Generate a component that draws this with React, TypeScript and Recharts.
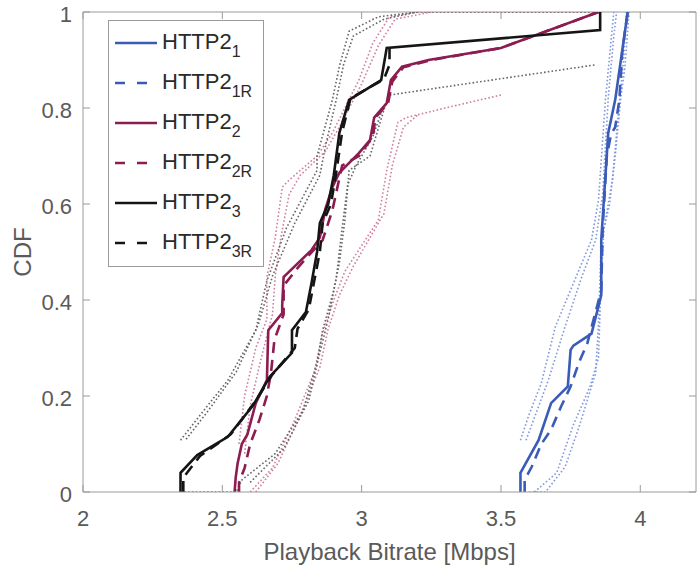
import React from "react";
import { LineChart, Line, XAxis, YAxis, Legend, ReferenceLine } from "recharts";

// CDF curves as [bitrate (Mbps), CDF]
const http2_1 = [[3.57, 0], [3.57, 0.04], [3.635, 0.108], [3.68, 0.185], [3.74, 0.22], [3.75, 0.296], [3.76, 0.305], [3.825, 0.33], [3.86, 0.41], [3.86, 0.525], [3.885, 0.748], [3.91, 0.817], [3.955, 1]];
const http2_1R = [[3.585, 0], [3.585, 0.025], [3.61, 0.052], [3.645, 0.1], [3.68, 0.13], [3.715, 0.177], [3.75, 0.22], [3.78, 0.27], [3.81, 0.31], [3.86, 0.42], [3.865, 0.55], [3.88, 0.7], [3.895, 0.745], [3.91, 0.76], [3.925, 0.817], [3.93, 0.865], [3.935, 0.915], [3.945, 0.96], [3.955, 1]];
const http2_2 = [[2.544, 0], [2.548, 0.03], [2.555, 0.06], [2.57, 0.1], [2.59, 0.12], [2.62, 0.185], [2.66, 0.233], [2.665, 0.337], [2.715, 0.373], [2.715, 0.39], [2.72, 0.448], [2.82, 0.504], [2.85, 0.53], [2.87, 0.59], [2.895, 0.635], [2.92, 0.665], [2.99, 0.706], [3.03, 0.733], [3.045, 0.78], [3.09, 0.81], [3.105, 0.858], [3.145, 0.886], [3.24, 0.9], [3.5, 0.925], [3.85, 1]];
const http2_2R = [[2.56, 0], [2.56, 0.02], [2.58, 0.05], [2.6, 0.1], [2.633, 0.15], [2.66, 0.2], [2.675, 0.25], [2.687, 0.317], [2.72, 0.37], [2.72, 0.43], [2.775, 0.47], [2.86, 0.525], [2.88, 0.56], [2.895, 0.587], [2.93, 0.68], [2.99, 0.7], [3.04, 0.74], [3.05, 0.78], [3.095, 0.81], [3.11, 0.855], [3.15, 0.885], [3.25, 0.9], [3.5, 0.925], [3.85, 1]];
const http2_3 = [[2.35, 0], [2.35, 0.04], [2.41, 0.077], [2.52, 0.115], [2.61, 0.18], [2.67, 0.24], [2.75, 0.29], [2.75, 0.337], [2.8, 0.375], [2.82, 0.435], [2.84, 0.5], [2.85, 0.56], [2.88, 0.6], [2.9, 0.66], [2.92, 0.748], [2.955, 0.817], [3.07, 0.858], [3.09, 0.925], [3.856, 0.9625], [3.856, 1]];
const http2_3R = [[2.36, 0], [2.36, 0.03], [2.42, 0.075], [2.53, 0.12], [2.62, 0.19], [2.68, 0.245], [2.76, 0.3], [2.77, 0.34], [2.81, 0.38], [2.83, 0.44], [2.85, 0.5], [2.86, 0.56], [2.89, 0.6], [2.91, 0.67], [2.93, 0.75], [2.96, 0.82], [3.08, 0.86], [3.1, 0.89], [3.1, 0.93]];

// dotted confidence bounds
const blueBoundA = [[3.57, 0.108], [3.6, 0.16], [3.645, 0.227], [3.695, 0.344], [3.78, 0.4625], [3.825, 0.525], [3.85, 0.608], [3.875, 0.817], [3.895, 0.94], [3.905, 1]];
const blueBoundB = [[3.59, 0.108], [3.67, 0.233], [3.73, 0.344], [3.79, 0.448], [3.84, 0.525], [3.865, 0.62], [3.885, 0.82], [3.905, 0.95], [3.915, 1]];
const blueBoundC = [[3.6, 0], [3.66, 0], [3.73, 0.052], [3.78, 0.135], [3.84, 0.248], [3.85, 0.352], [3.86, 0.525], [3.89, 0.6], [3.91, 0.7], [3.93, 0.82], [3.945, 0.886], [3.96, 1]];
const blueBoundD = [[3.62, 0], [3.7, 0.04], [3.76, 0.14], [3.82, 0.22], [3.85, 0.28], [3.86, 0.45], [3.87, 0.55], [3.9, 0.65], [3.92, 0.78], [3.94, 0.9], [3.95, 1]];
const maroonBoundA = [[2.56, 0.1], [2.58, 0.2], [2.62, 0.3], [2.66, 0.36], [2.66, 0.448], [2.69, 0.53], [2.715, 0.635], [2.74, 0.65], [2.84, 0.7], [2.895, 0.748], [2.99, 0.858], [3.04, 0.935], [3.1, 0.99], [3.2, 1], [3.85, 1]];
const maroonBoundB = [[2.58, 0.08], [2.6, 0.18], [2.64, 0.28], [2.68, 0.37], [2.69, 0.45], [2.71, 0.53], [2.74, 0.62], [2.78, 0.66], [2.87, 0.71], [2.92, 0.76], [3.0, 0.85], [3.06, 0.93], [3.12, 0.985], [3.25, 1]];
const maroonBoundC = [[2.6, 0], [2.68, 0.05], [2.76, 0.15], [2.83, 0.25], [2.86, 0.33], [2.9, 0.4], [2.94, 0.46], [3.06, 0.567], [3.09, 0.67], [3.13, 0.77], [3.16, 0.78], [3.3, 0.8], [3.5, 0.827]];
const maroonBoundD = [[2.62, 0], [2.7, 0.06], [2.78, 0.16], [2.85, 0.26], [2.88, 0.34], [2.92, 0.41], [2.97, 0.47], [3.08, 0.58], [3.11, 0.68], [3.15, 0.76], [3.2, 0.785]];
const blackBoundA = [[2.35, 0.108], [2.42, 0.16], [2.52, 0.233], [2.62, 0.337], [2.66, 0.44], [2.73, 0.55], [2.84, 0.67], [2.84, 0.7], [2.895, 0.817], [2.92, 0.886], [2.955, 0.96], [3.06, 0.99], [3.2, 1], [3.85, 1]];
const blackBoundB = [[2.37, 0.11], [2.45, 0.17], [2.55, 0.25], [2.63, 0.35], [2.68, 0.45], [2.76, 0.56], [2.85, 0.66], [2.87, 0.72], [2.91, 0.82], [2.935, 0.89], [2.97, 0.95], [3.08, 0.985], [3.2, 1]];
const blackBoundC = [[2.35, 0], [2.55, 0], [2.57, 0.025], [2.69, 0.08], [2.79, 0.17], [2.84, 0.27], [2.86, 0.337], [2.9, 0.42], [2.92, 0.477], [2.94, 0.567], [2.955, 0.67], [3.03, 0.7], [3.08, 0.796], [3.1, 0.827], [3.84, 0.89]];
const blackBoundD = [[2.6, 0.02], [2.72, 0.09], [2.81, 0.19], [2.85, 0.29], [2.88, 0.36], [2.91, 0.45], [2.93, 0.55], [2.95, 0.64], [2.98, 0.68], [3.04, 0.74], [3.07, 0.79]];

const xTicks = [2, 2.5, 3, 3.5, 4];
const yTicks = [0, 0.2, 0.4, 0.6, 0.8, 1];
const legendNames = ["1", "1R", "2", "2R", "3", "3R"];

const BLUE = "#3a5cb8";
const MAROON = "#8d1c50";
const BLACK = "#151515";
const AXIS = "#9a9a9a";
const TXT = "#5a5a5a";
const FONT = "'Liberation Sans', Arial, sans-serif";

const DASH = "11 7";
const DOT = "1.6 2.2";

// plot box in px, used for the inside ticks
const TOP = 12;
const BOTTOM = 492;
const LEFT = 83;
const RIGHT = 696;

const toPoints = (pts: number[][]) => pts.map(([x, y]) => ({ x, y }));

const series = [
  { key: "bA", data: blueBoundA, color: "#8297dd", width: 1.6, dash: DOT },
  { key: "bB", data: blueBoundB, color: "#8297dd", width: 1.6, dash: DOT },
  { key: "bC", data: blueBoundC, color: "#8297dd", width: 1.6, dash: DOT },
  { key: "bD", data: blueBoundD, color: "#8297dd", width: 1.6, dash: DOT },
  { key: "mA", data: maroonBoundA, color: "#cf7fa3", width: 1.6, dash: DOT },
  { key: "mB", data: maroonBoundB, color: "#cf7fa3", width: 1.6, dash: DOT },
  { key: "mC", data: maroonBoundC, color: "#cf7fa3", width: 1.6, dash: DOT },
  { key: "mD", data: maroonBoundD, color: "#cf7fa3", width: 1.6, dash: DOT },
  { key: "kA", data: blackBoundA, color: "#666666", width: 1.6, dash: DOT },
  { key: "kB", data: blackBoundB, color: "#666666", width: 1.6, dash: DOT },
  { key: "kC", data: blackBoundC, color: "#666666", width: 1.6, dash: DOT },
  { key: "kD", data: blackBoundD, color: "#666666", width: 1.6, dash: DOT },
  { key: "h1", data: http2_1, color: BLUE, width: 2.6, dash: undefined },
  { key: "h1R", data: http2_1R, color: BLUE, width: 2.6, dash: DASH },
  { key: "h2", data: http2_2, color: MAROON, width: 2.6, dash: undefined },
  { key: "h2R", data: http2_2R, color: MAROON, width: 2.6, dash: DASH },
  { key: "h3", data: http2_3, color: BLACK, width: 2.6, dash: undefined },
  { key: "h3R", data: http2_3R, color: BLACK, width: 2.6, dash: DASH },
];

const legendColors = [BLUE, BLUE, MAROON, MAROON, BLACK, BLACK];

function XTick({ x, payload }: any) {
  return (
    <g>
      <line x1={x} x2={x} y1={BOTTOM} y2={BOTTOM - 7} stroke={AXIS} />
      <line x1={x} x2={x} y1={TOP} y2={TOP + 7} stroke={AXIS} />
      <text x={x} y={BOTTOM + 34} textAnchor="middle" fontSize={22} fill={TXT} fontFamily={FONT}>
        {String(payload.value)}
      </text>
    </g>
  );
}

function YTick({ y, payload }: any) {
  return (
    <g>
      <line x1={LEFT} x2={LEFT + 7} y1={y} y2={y} stroke={AXIS} />
      <line x1={RIGHT - 7} x2={RIGHT} y1={y} y2={y} stroke={AXIS} />
      <text x={72} y={y + 10} textAnchor="end" fontSize={22} fill={TXT} fontFamily={FONT}>
        {String(payload.value)}
      </text>
    </g>
  );
}

function LegendBox() {
  return (
    <div
      style={{
        width: 156,
        height: 247,
        boxSizing: "border-box",
        border: `1px solid ${AXIS}`,
        background: "#fff",
        paddingTop: 2,
        fontFamily: FONT,
      }}
    >
      {legendNames.map((sub, i) => (
        <div key={sub} style={{ height: 40, display: "flex", alignItems: "center" }}>
          <svg width={42} height={6} style={{ marginLeft: 6, marginRight: 5 }}>
            <line
              x1={0}
              x2={42}
              y1={3}
              y2={3}
              stroke={legendColors[i]}
              strokeWidth={2.6}
              strokeDasharray={sub.endsWith("R") ? "10 12" : undefined}
            />
          </svg>
          <span style={{ fontSize: 22, color: "#2a2a2a", lineHeight: "22px", whiteSpace: "nowrap" }}>
            HTTP2
            <span style={{ fontSize: 16, position: "relative", top: 8 }}>{sub}</span>
          </span>
        </div>
      ))}
    </div>
  );
}

export default function App() {
  return (
    <div style={{ position: "absolute", left: 0, top: 0, width: 697, height: 568, overflow: "hidden", background: "#fff" }}>
      <LineChart width={697} height={568} margin={{ top: TOP, right: 1, bottom: 0, left: 0 }}>
        <XAxis
          type="number"
          dataKey="x"
          domain={[2, 4.2]}
          ticks={xTicks}
          allowDataOverflow
          height={76}
          stroke={AXIS}
          tickSize={0}
          tickMargin={0}
          tick={<XTick />}
          label={{ value: "Playback Bitrate [Mbps]", position: "insideBottom", offset: 8, fontSize: 24, fill: TXT, fontFamily: FONT }}
        />
        <YAxis
          type="number"
          dataKey="y"
          domain={[0, 1]}
          ticks={yTicks}
          allowDataOverflow
          width={83}
          stroke={AXIS}
          tickSize={0}
          tickMargin={0}
          tick={<YTick />}
          label={{
            content: () => (
              <text x={31} y={252} transform="rotate(-90 31 252)" textAnchor="middle" fontSize={24} fill={TXT} fontFamily={FONT}>
                CDF
              </text>
            ),
          }}
        />
        <ReferenceLine y={1} stroke={AXIS} />
        <ReferenceLine x={4.2} stroke={AXIS} />
        {series.map((s) => (
          <Line
            key={s.key}
            data={toPoints(s.data)}
            dataKey="y"
            type="linear"
            stroke={s.color}
            strokeWidth={s.width}
            strokeDasharray={s.dash}
            dot={false}
            activeDot={false}
            legendType="none"
            isAnimationActive={false}
          />
        ))}
        <Legend
          layout="vertical"
          align="center"
          verticalAlign="middle"
          wrapperStyle={{ left: 108, top: 20, width: 156, height: 247 }}
          content={() => <LegendBox />}
        />
      </LineChart>
    </div>
  );
}
